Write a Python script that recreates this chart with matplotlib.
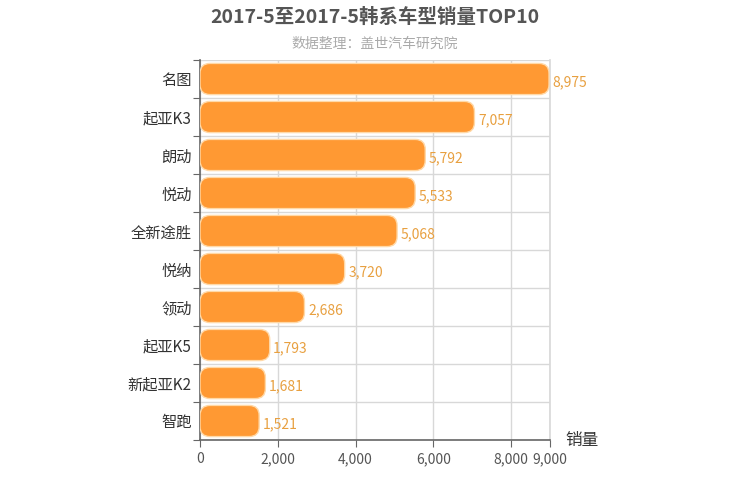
import matplotlib
matplotlib.use("Agg")
import matplotlib.pyplot as plt
from matplotlib.patches import FancyBboxPatch
import numpy as np

plt.rcParams['font.family'] = ['Noto Sans CJK SC', 'DejaVu Sans']

models = ["名图", "起亚K3", "朗动", "悦动", "全新途胜", "悦纳", "领动", "起亚K5", "新起亚K2", "智跑"]
sales = [8975, 7057, 5792, 5533, 5068, 3720, 2686, 1793, 1681, 1521]
xticks = [0, 2000, 4000, 6000, 8000, 9000]

fig = plt.figure(figsize=(7.5, 5), dpi=100)
ax = fig.add_axes([200 / 750, 60 / 500, 350 / 750, 380 / 500])

n = len(models)
ax.set_xlim(0, 9000)
ax.set_ylim(n, 0)

# px -> data conversion for rounded corners
x_per_px = 9000 / 350
y_per_px = n / 380
radius_px = 10
h = 0.82

for i, v in enumerate(sales):
    yc = i + 0.5
    p = FancyBboxPatch((0, yc - h / 2), v, h,
                       boxstyle="round,pad=0,rounding_size=%f" % (radius_px * x_per_px),
                       mutation_aspect=y_per_px / x_per_px,
                       facecolor="#FF9933", edgecolor="#FFD9A8", linewidth=1, zorder=3)
    ax.add_patch(p)
    ax.text(v + 90, yc + 0.08, f"{v:,}", va="center", ha="left",
            fontsize=10, color="#E8A040", fontweight="medium", zorder=4)

ax.set_yticks(np.arange(0, n + 1))
ax.set_yticklabels([])
ax.set_yticks(np.arange(n) + 0.5, minor=True)
ax.set_yticklabels(models, minor=True, fontsize=11, color="#333333", fontweight="medium")
ax.tick_params(axis="y", which="minor", length=0, pad=6)
ax.tick_params(axis="y", which="major", length=5, color="#666666", direction="out")

ax.set_xticks(xticks)
ax.set_xticklabels([f"{t:,}" for t in xticks], fontsize=10, color="#555555", fontweight="medium")
ax.tick_params(axis="x", length=5, color="#666666")

ax.grid(True, which="major", color="#D8D8D8", linewidth=1, zorder=0)
ax.axvline(9000, color="#D8D8D8", linewidth=1.2, zorder=0, clip_on=False)
ax.set_axisbelow(True)

for s in ["top", "right"]:
    ax.spines[s].set_visible(False)
ax.spines["left"].set_color("#666666")
ax.spines["bottom"].set_color("#666666")
ax.spines["left"].set_linewidth(1.2)
ax.spines["bottom"].set_linewidth(1.2)

fig.text(0.5, 0.965, "2017-5至2017-5韩系车型销量TOP10", ha="center", va="center",
         fontsize=14, fontweight="bold", color="#555555")
fig.text(0.5, 0.912, "数据整理：盖世汽车研究院", ha="center", va="center",
         fontsize=10, color="#AAAAAA")
fig.text(565 / 750, 1 - 441 / 500, "销量", ha="left", va="center",
         fontsize=12, color="#333333", fontweight="medium")

fig.savefig("out.png", dpi=100)
